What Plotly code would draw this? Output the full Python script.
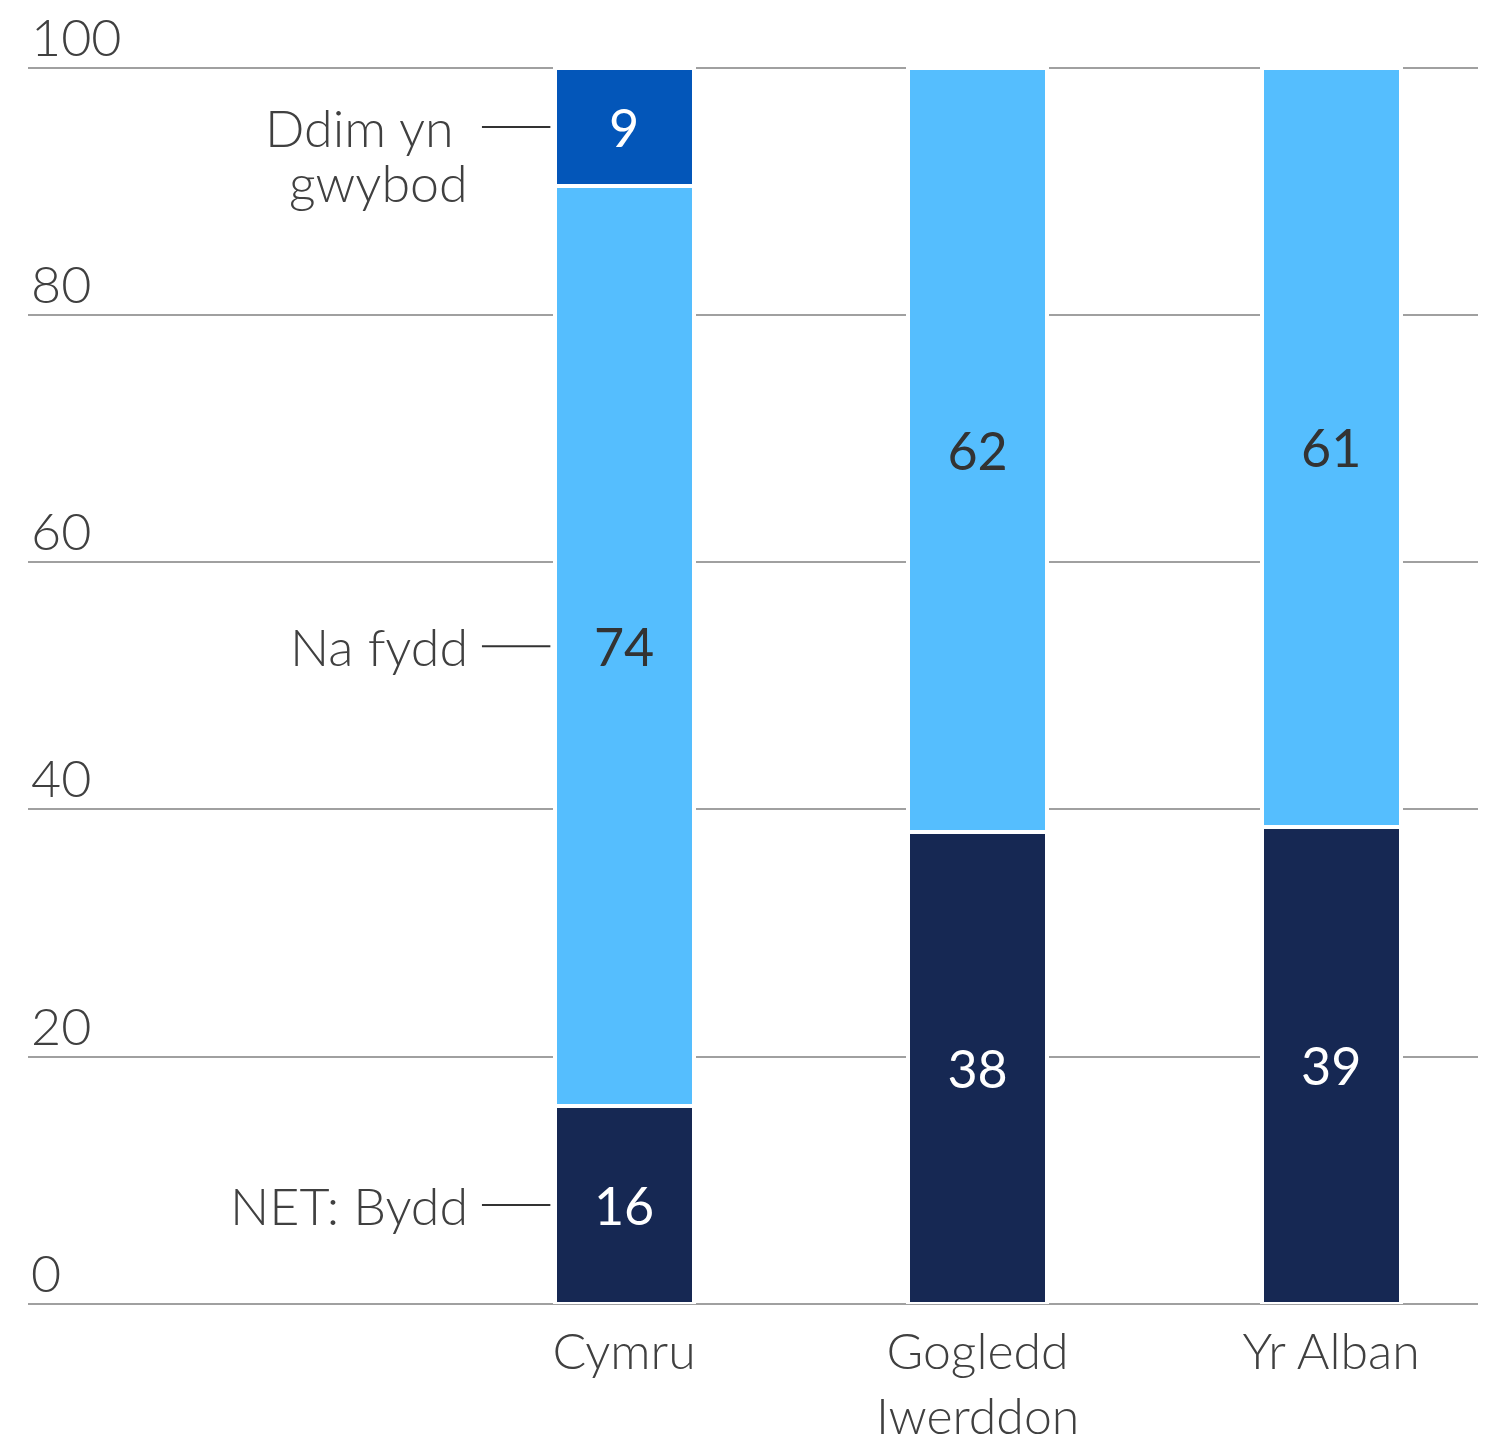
import plotly.graph_objects as go

# data
categories = ['Cymru', 'Gogledd<br>Iwerddon', 'Yr Alban']
bydd = [16.0, 38.2, 38.6]          # NET: Bydd
na_fydd = [74.4, 61.8, 61.4]       # Na fydd
ddim = [9.6, 0, 0]                 # Ddim yn gwybod
bydd_txt = ['16', '38', '39']
na_fydd_txt = ['74', '62', '61']
ddim_txt = ['9', '', '']
y_ticks = [0, 20, 40, 60, 80, 100]

navy = '#162853'
light = '#55BEFE'
mid = '#0356B9'
grey_txt = '#404040'
FONT = 'Lato'

xpos = list(range(len(categories)))
bar_w = 0.393

fig = go.Figure()
series = [
    (bydd, bydd_txt, navy, 'white', 'NET: Bydd'),
    (na_fydd, na_fydd_txt, light, '#333333', 'Na fydd'),
    (ddim, ddim_txt, mid, 'white', 'Ddim yn gwybod'),
]
for vals, txt, col, tcol, name in series:
    fig.add_trace(go.Bar(
        x=xpos, y=vals, name=name, width=bar_w,
        marker=dict(color=col, line=dict(color='white', width=4)),
        text=txt, textposition='inside', insidetextanchor='middle',
        textangle=0, constraintext='none',
        textfont=dict(family=FONT, size=52, color=tcol, weight=400),
        hoverinfo='skip',
    ))

# left-hand labels next to the Cymru bar, at the centre of each segment
lbl_x = -0.436
line_x0 = -0.402
line_x1 = -bar_w / 2 - 0.012
base = 0
centres = []
for vals in [bydd, na_fydd, ddim]:
    centres.append(base + vals[0] / 2)
    base += vals[0]

labels = [['NET: Bydd'], ['Na fydd'], ['Ddim yn\u00a0', 'gwybod']]
for c, lines in zip(centres, labels):
    for k, t in enumerate(lines):
        fig.add_annotation(x=lbl_x, y=c, xref='x', yref='y', text=t, showarrow=False,
                           xanchor='right', yanchor='middle', yshift=-55 * k,
                           font=dict(family=FONT, size=52, color=grey_txt, weight=300))
    fig.add_shape(type='line', xref='x', yref='y', x0=line_x0, x1=line_x1, y0=c, y1=c,
                  line=dict(color='#333333', width=2))

# page body adds an 8px offset, so the figure is 8px smaller than the window
fig.update_layout(
    barmode='stack',
    width=1478, height=1430,
    margin=dict(l=20, r=0, t=56, b=134),
    plot_bgcolor='white', paper_bgcolor='white',
    showlegend=False,
    font=dict(family=FONT, size=52, color=grey_txt, weight=300),
)
fig.update_xaxes(range=[-1.686, 2.438], tickvals=xpos, ticktext=categories,
                 showgrid=False, zeroline=False, showline=False, automargin=False,
                 ticks='outside', ticklen=4, tickcolor='rgba(0,0,0,0)',
                 tickfont=dict(family=FONT, size=50, color=grey_txt, weight=300))
fig.update_yaxes(range=[0, 100.3], tickvals=y_ticks, showgrid=True, gridcolor='#a0a0a0',
                 gridwidth=1.5, zeroline=True, zerolinecolor='#a0a0a0', zerolinewidth=1.5,
                 showline=False, ticklabelposition='inside top', ticklabeloverflow='allow',
                 ticklabelshift=6, ticks='', automargin=False,
                 tickfont=dict(family=FONT, size=52, color=grey_txt, weight=300))

fig.write_html('out.html')
